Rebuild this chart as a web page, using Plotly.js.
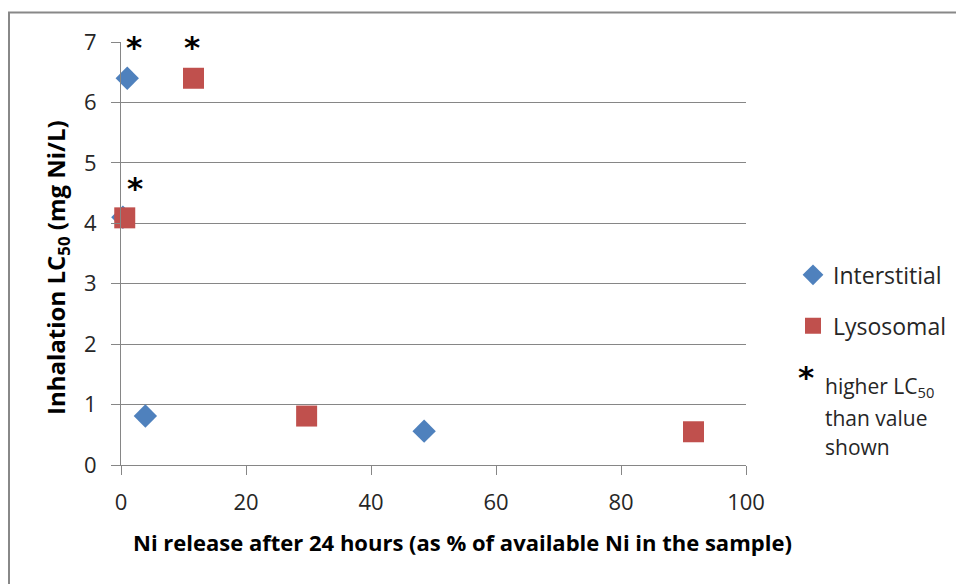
<!DOCTYPE html>
<html>
<head>
<meta charset="utf-8">
<script src="https://cdn.plot.ly/plotly-3.0.1.min.js"></script>
<style>html,body{margin:0;padding:0;background:#fff;}#chart{width:956px;height:584px;}</style>
</head>
<body>
<div id="chart"></div>
<script>
var seriesNames = ["Interstitial", "Lysosomal"];
var interstitialX = [1.0, 0.3, 3.9, 48.5];
var interstitialY = [6.40, 4.10, 0.81, 0.56];
var lysosomalX = [11.6, 0.6, 29.7, 91.6];
var lysosomalY = [6.40, 4.09, 0.81, 0.55];
var asteriskX = [2.1, 11.4, 2.2];
var asteriskY = [7.0, 7.0, 4.67];
var xTicks = [0, 20, 40, 60, 80, 100];
var yTicks = [0, 1, 2, 3, 4, 5, 6, 7];
var noteLines = ["higher LC<sub>50</sub>", "than value", "shown"];

var FONT = "'Open Sans', Lato, sans-serif";
var STAR = "'DejaVu Sans', sans-serif";
var TXT = "#262626";

// plot area in pixels
var PL = 121, PR = 746, PT = 41.5, PB = 465.5;
function px(x) { return (x - PL) / (PR - PL); }
function py(y) { return (PB - y) / (PB - PT); }

var traces = [
  {x: interstitialX, y: interstitialY, name: seriesNames[0], type: "scatter", mode: "markers",
   cliponaxis: false, legendgroup: "a",
   marker: {symbol: "diamond", size: 18, color: "#4F81BD"}},
  {x: lysosomalX, y: lysosomalY, name: seriesNames[1], type: "scatter", mode: "markers",
   cliponaxis: false, legendgroup: "b",
   marker: {symbol: "square", size: 21, color: "#C0504D"}}
];

var annotations = asteriskX.map(function(x, i) {
  return {x: x, y: asteriskY[i], xref: "x", yref: "y", text: "<b>*</b>", showarrow: false,
          yanchor: "middle", yshift: -5, font: {family: STAR, size: 31, color: "#000"}};
});
annotations.push({xref: "paper", yref: "paper", x: px(806), y: py(372),
  text: "<b>*</b>", showarrow: false, xanchor: "center", yanchor: "middle", yshift: -5,
  font: {family: STAR, size: 31, color: "#000"}});
var noteY = [387, 418, 447];
noteLines.forEach(function(t, i) {
  annotations.push({xref: "paper", yref: "paper", x: px(823), y: py(noteY[i]),
    text: t, align: "left", showarrow: false, xanchor: "left", yanchor: "middle",
    font: {family: FONT, size: 21, color: TXT}});
});
annotations.push({xref: "paper", yref: "paper", x: px(462.5), y: py(543),
  text: "<b>Ni release after 24 hours (as % of available Ni in the sample)</b>",
  showarrow: false, xanchor: "center", yanchor: "middle",
  font: {family: FONT, size: 22, color: "#000"}});
annotations.push({xref: "paper", yref: "paper", x: px(57), y: py(268),
  text: "<b>Inhalation LC<sub>50</sub> (mg Ni/L)</b>", textangle: -90,
  showarrow: false, xanchor: "center", yanchor: "middle",
  font: {family: FONT, size: 24, color: "#000"}});

var layout = {
  width: 956, height: 584,
  margin: {l: PL, r: 956 - PR, t: PT, b: 584 - PB, autoexpand: false},
  paper_bgcolor: "#fff", plot_bgcolor: "#fff",
  font: {family: FONT, color: TXT},
  showlegend: true,
  legend: {x: px(793), y: py(300.5), xanchor: "left", yanchor: "middle",
           traceorder: "grouped", tracegroupgap: 18, font: {family: FONT, size: 23, color: TXT},
           bgcolor: "rgba(0,0,0,0)"},
  xaxis: {range: [0, 100], tickvals: xTicks, ticks: "outside", ticklen: 9, tickcolor: "#868686",
          showline: true, linecolor: "#868686", showgrid: false, zeroline: false,
          tickfont: {family: FONT, size: 22, color: TXT}, ticklabelstandoff: 9},
  yaxis: {range: [0, 7], tickvals: yTicks, ticks: "outside", ticklen: 9, tickcolor: "#868686",
          showline: true, linecolor: "#868686", showgrid: true, gridcolor: "#868686", zeroline: false,
          tickfont: {family: FONT, size: 22, color: TXT}, ticklabelstandoff: 10},
  annotations: annotations,
  shapes: [{type: "rect", xref: "paper", yref: "paper",
            x0: px(9), x1: px(970), y0: py(600), y1: py(12),
            line: {color: "#888888", width: 2}, fillcolor: "rgba(0,0,0,0)", layer: "below"}]
};
Plotly.newPlot("chart", traces, layout, {displayModeBar: false, staticPlot: true});
</script>
</body>
</html>
